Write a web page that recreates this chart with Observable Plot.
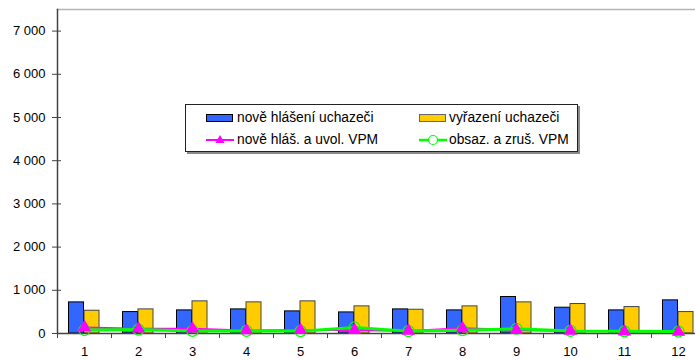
<!DOCTYPE html>
<html>
<head>
<meta charset="utf-8">
<script src="https://cdn.jsdelivr.net/npm/d3@7"></script>
<script src="https://cdn.jsdelivr.net/npm/@observablehq/plot@0.6"></script>
<style>
  body { margin: 0; background: white; overflow: hidden; }
  #wrap { position: relative; width: 695px; height: 360px; font-family: "Liberation Sans", Arial, sans-serif; }
  #legend { position: absolute; left: 185px; top: 104px; width: 391px; height: 46px; border: 1px solid #222; box-shadow: 2px 2px 0 #8a8a8a; background: white; font-size: 13.8px; color: #000; }
  #legend .t { position: absolute; line-height: 14px; white-space: nowrap; }
  #legend .sw { position: absolute; box-sizing: border-box; }
  #legend svg { position: absolute; }
</style>
</head>
<body>
<div id="wrap"></div>
<script>
const months = [1, 2, 3, 4, 5, 6, 7, 8, 9, 10, 11, 12];
const noveHlaseni = [720, 496, 535, 558, 512, 488, 558, 535, 845, 597, 535, 767];
const vyrazeni = [527, 558, 744, 721, 744, 628, 550, 628, 721, 682, 612, 496];
const noveVPM = [140, 110, 110, 70, 80, 80, 60, 120, 80, 60, 45, 35];
const obsazVPM = [80, 90, 60, 60, 55, 140, 55, 75, 110, 60, 50, 45];
const yTicks = [0, 1000, 2000, 3000, 4000, 5000, 6000, 7000];
const seriesNames = ["nově hlášení uchazeči", "vyřazení uchazeči", "nově hláš. a uvol. VPM", "obsaz. a zruš. VPM"];

const colBlue = "#3366ff", colYellow = "#ffcc00", colMag = "#ff00ff", colGreen = "#00ff00";

const bars1 = months.map((m, i) => ({m, v: noveHlaseni[i]}));
const bars2 = months.map((m, i) => ({m, v: vyrazeni[i]}));
const line1 = months.map((m, i) => ({m, v: noveVPM[i]}));
const line2 = months.map((m, i) => ({m, v: obsazVPM[i]}));

const fmt = d => d3.format(",")(d).replace(/,/g, " ");

const chart = Plot.plot({
  width: 695,
  height: 360,
  marginTop: 9,
  marginBottom: 27,
  marginLeft: 57,
  marginRight: 0,
  style: {fontFamily: "'Liberation Sans', Arial, sans-serif", fontSize: "13px", color: "#000", background: "white"},
  x: {type: "band", domain: months, range: [57, 705], padding: 0},
  y: {domain: [0, 7500]},
  marks: [
    Plot.frame({anchor: "top", stroke: "#b4b4b4", strokeWidth: 1.5}),
    Plot.barY(bars1, {x: "m", y: "v", fill: colBlue, stroke: "#000", strokeWidth: 1, insetLeft: 11.5, insetRight: 27.5}),
    Plot.barY(bars2, {x: "m", y: "v", fill: colYellow, stroke: "#444", strokeWidth: 1, insetLeft: 27, insetRight: 12}),
    Plot.ruleY([0], {stroke: "#444", strokeWidth: 1.5}),
    Plot.frame({anchor: "left", stroke: "#444", strokeWidth: 1.5}),
    Plot.axisY({ticks: yTicks, tickSize: 9, tickPadding: 7, dx: 4, tickFormat: fmt, label: null, stroke: "#444"}),
    Plot.axisX({tickSize: 5, dx: -27, text: null, label: null, stroke: "#444"}),
    Plot.axisX({tickSize: 0, tickPadding: 13, label: null}),
    Plot.line(line1, {x: "m", y: "v", stroke: colMag, strokeWidth: 2}),
    Plot.line(line2, {x: "m", y: "v", stroke: colGreen, strokeWidth: 3}),
    Plot.dot(line2, {x: "m", y: "v", r: 5.5, stroke: colGreen, strokeWidth: 1.2, fill: "none"}),
    Plot.dot(line1, {x: "m", y: "v", r: 4, symbol: "triangle", fill: colMag, stroke: colMag})
  ]
});
const wrap = document.getElementById("wrap");
wrap.appendChild(chart);

const legend = document.createElement("div");
legend.id = "legend";
legend.innerHTML = `
  <div class="sw" style="left:20px;top:9px;width:27px;height:8px;background:${colBlue};border:1px solid #000"></div>
  <div class="t" style="left:51px;top:6px">${seriesNames[0]}</div>
  <div class="sw" style="left:233px;top:9px;width:27px;height:8px;background:${colYellow};border:1px solid #666"></div>
  <div class="t" style="left:263px;top:6px">${seriesNames[1]}</div>
  <svg style="left:20px;top:28px" width="28" height="14"><line x1="0" y1="7" x2="28" y2="7" stroke="${colMag}" stroke-width="2"/><path d="M14,2 L18.5,10 L9.5,10 Z" fill="${colMag}"/></svg>
  <div class="t" style="left:51px;top:28px">${seriesNames[2]}</div>
  <svg style="left:233px;top:28px" width="28" height="14"><line x1="0" y1="7" x2="28" y2="7" stroke="${colGreen}" stroke-width="2.5"/><circle cx="14" cy="7" r="4.5" fill="white" stroke="${colGreen}" stroke-width="1.2"/></svg>
  <div class="t" style="left:263px;top:28px">${seriesNames[3]}</div>
`;
wrap.appendChild(legend);
</script>
</body>
</html>
